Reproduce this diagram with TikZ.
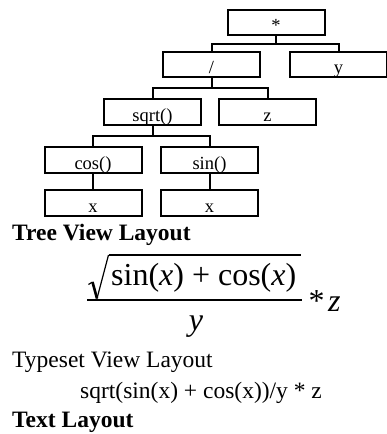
\documentclass[tikz,border=0pt]{standalone}
\usepackage{fontspec}
\setmainfont{Liberation Serif}
\usetikzlibrary{calc}
\begin{document}
\begin{tikzpicture}[x=1pt,y=-1pt,
  treebox/.style={draw, line width=2pt, inner sep=0pt, minimum width=97pt,
    text height=22pt, text depth=3.5pt, font=\fontsize{18.5}{20}\selectfont},
  conn/.style={line width=2pt},
  lbl/.style={inner sep=0pt, anchor=base west, font=\fontsize{23.5}{26}\selectfont},
  blbl/.style={lbl, font=\fontsize{23.5}{26}\selectfont\bfseries},
  mth/.style={inner sep=0pt, font=\fontsize{32}{34}\selectfont}]
\useasboundingbox (0,0) rectangle (387,434);
% tree
\node[treebox] (star) at (276,22.5) {*};
\node[treebox] (div) at (211.5,64.5) {/};
\node[treebox] (yb) at (338.5,64.5) {y};
\node[treebox] (sq) at (152.5,112) {sqrt()};
\node[treebox] (zb) at (267.5,112) {z};
\node[treebox] (cs) at (93,160) {cos()};
\node[treebox] (sn) at (209.5,160) {sin()};
\node[treebox] (xa) at (93,203) {x};
\node[treebox] (xb) at (209.5,203) {x};
\draw[conn] (star.south) |- ($(star.south)!.5!(div.north)$) -| (div.north);
\draw[conn] (star.south) |- ($(star.south)!.5!(yb.north)$) -| (yb.north);
\draw[conn] (div.south) |- ($(div.south)!.5!(sq.north)$) -| (sq.north);
\draw[conn] (div.south) |- ($(div.south)!.5!(zb.north)$) -| (zb.north);
\draw[conn] (sq.south) |- ($(sq.south)!.5!(cs.north)$) -| (cs.north);
\draw[conn] (sq.south) |- ($(sq.south)!.5!(sn.north)$) -| (sn.north);
\draw[conn] (cs) -- (xa);
\draw[conn] (sn) -- (xb);
% labels
\node[blbl] (tvl) at (12,240) {Tree View Layout};
\node[lbl] (tsl) at (12,367) {Typeset View Layout};
\node[lbl] (txt) at (80,398) {sqrt(sin(x) + cos(x))/y * z};
\node[blbl] (tl) at (12,427.5) {Text Layout};
% typeset formula
\node[mth, anchor=base west] (num) at (111,285) {sin(\textit{x}) + cos(\textit{x})};
\coordinate (r0) at (88.5,284.5);
\coordinate (r1) at (92.5,282);
\coordinate (r2) at (97,298.5);
\coordinate (r3) at (108.5,255);
\coordinate (r4) at (301,255);
\draw[line width=1.2pt, line join=miter] (r0) -- (r1);
\draw[line width=2.6pt] (r1) -- (r2);
\draw[line width=1.2pt] (r2) -- (r3);
\draw[line width=1.7pt] (r3) -- (r4);
\coordinate (f0) at (87,300);
\coordinate (f1) at (302,300);
\draw[line width=2pt] (f0) -- (f1);
\node[mth, anchor=base] (den) at (196,330) {\textit{y}};
\node[mth, anchor=base west] (ast) at (308.5,311) {*};
\node[mth, anchor=base west] (zz) at (328,311) {\textit{z}};
\end{tikzpicture}
\end{document}
